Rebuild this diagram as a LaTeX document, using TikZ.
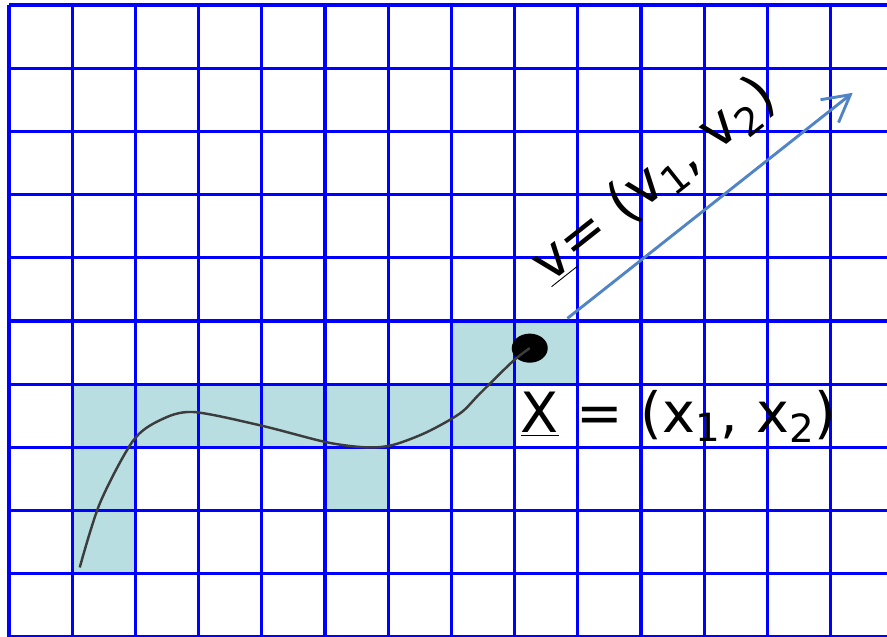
\documentclass[tikz,border=0pt]{standalone}
\usepackage{fontspec}
\setmainfont{DejaVu Sans}
\usepackage{tikz}
\usetikzlibrary{positioning,arrows.meta,shapes.geometric}
\usepackage{xcolor}
\definecolor{GridBlue}{RGB}{0,0,255}
\definecolor{CellFill}{RGB}{184,222,226}
\definecolor{VecBlue}{RGB}{80,132,196}
\definecolor{CurveGray}{RGB}{60,60,60}

\begin{document}
\begin{tikzpicture}[
    gridline/.style={GridBlue, line width=1.5pt},
    cell/.style={fill=CellFill},
    curve/.style={CurveGray, line width=1.1pt},
    dot/.style={ellipse, fill=black, minimum width=0.57cm, minimum height=0.46cm, inner sep=0pt},
    vec/.style={VecBlue, line width=1.3pt, -{Straight Barb[length=4.2mm, width=4.6mm]}},
    lbl/.style={font=\fontsize{25}{30}\selectfont, text=black, inner sep=0pt}
]
\fill[white] (-0.142,0) rectangle (13.893,10.079);
\useasboundingbox (-0.142,0) rectangle (13.893,10.079);
% cells hit by the curve
\foreach \x/\y in {1/1, 1/2, 1/3, 2/3, 3/3, 4/3, 5/3, 5/2, 6/3, 7/3, 7/4, 8/4}
    \fill[cell] (\x,\y) rectangle ++(1,1);
\draw[gridline] (0,0) grid (13.893,10);

\node[dot] (pt) at (8.24,4.57) {};
\draw[curve] plot[smooth] coordinates {(1.12,1.1) (1.44,2.12) (1.96,3.1) (2.39,3.43) (2.91,3.56)
    (3.97,3.35) (5.03,3.08) (5.66,3.0) (6.08,3.04) (6.61,3.24) (7.14,3.54) (7.45,3.85) (7.97,4.36) (pt.center)};

\coordinate (tip) at (13.35,8.61);
\draw[vec, shorten <=0.76cm] (pt.center) -- (tip)
    node[lbl, pos=0.49, sloped, above=0.42cm] (vlab)
    {\underline{v}= (v\textsubscript{1}, v\textsubscript{2})};

\node[lbl, anchor=base west] (xlab) at (8.09,3.24) {\underline{X} = (x\textsubscript{1}, x\textsubscript{2})};
\end{tikzpicture}
\end{document}
